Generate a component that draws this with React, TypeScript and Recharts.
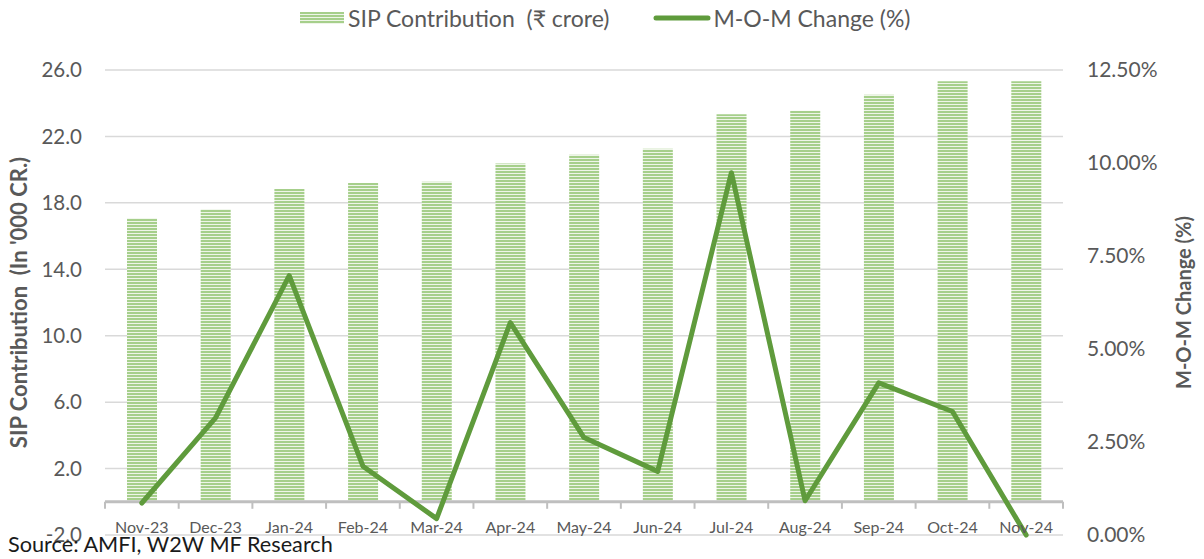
import React from 'react';
import {
  ComposedChart,
  Bar,
  Line,
  XAxis,
  YAxis,
  CartesianGrid,
  Legend,
  ReferenceLine,
} from 'recharts';

const months = ['Nov-23', 'Dec-23', 'Jan-24', 'Feb-24', 'Mar-24', 'Apr-24', 'May-24', 'Jun-24', 'Jul-24', 'Aug-24', 'Sep-24', 'Oct-24', 'Nov-24'];
const sipContribution = [17.07, 17.61, 18.84, 19.19, 19.27, 20.37, 20.9, 21.26, 23.33, 23.55, 24.51, 25.32, 25.32];
const momChange = [0.86, 3.15, 6.97, 1.85, 0.44, 5.71, 2.62, 1.71, 9.74, 0.92, 4.09, 3.32, 0];
const leftTicks = [-2, 2, 6, 10, 14, 18, 22, 26];
const rightTicks = [0, 2.5, 5, 7.5, 10, 12.5];

const data = months.map((m, i) => ({ month: m, sip: sipContribution[i], mom: momChange[i] }));

const W = 1204;
const H = 559;
const LEGEND_H = 36;
// plot area runs from y=70 to y=535
const MARGIN = { top: 70 - LEGEND_H, right: 0, bottom: 23, left: 0 };
const LEFT_W = 105;
const RIGHT_W = 141;
const PLOT_W = W - LEFT_W - RIGHT_W;
const PLOT_H = 535 - 70;
const BAND = PLOT_W / months.length;
const ZERO_OFFSET = (PLOT_H * 2) / 28;

const TEXT = '#595959';
const LINE_GREEN = '#5f9b3c';
const STRIPE = '#a6cf8b';
const STRIPE_BG = '#eef5e8';
const FONT = 'Lato, "Open Sans", sans-serif';

const XTick = (props: any) => {
  const { x, y, payload, index } = props;
  const y0 = y - ZERO_OFFSET;
  return (
    <g>
      <line x1={x - BAND / 2} x2={x - BAND / 2} y1={y0} y2={y0 + 7} stroke="#bfbfbf" strokeWidth={2} />
      {index === months.length - 1 && (
        <line x1={x + BAND / 2} x2={x + BAND / 2} y1={y0} y2={y0 + 7} stroke="#bfbfbf" strokeWidth={2} />
      )}
      <text x={x} y={y - 2} textAnchor="middle" fontSize={16} fill={TEXT} fontFamily={FONT}>
        {payload.value}
      </text>
    </g>
  );
};

const LegendContent = () => (
  <div style={{ display: 'flex', alignItems: 'center', paddingLeft: 300, height: LEGEND_H, fontFamily: FONT, fontSize: 23, color: TEXT }}>
    <svg width={44} height={12} style={{ marginRight: 4 }}>
      <defs>
        <pattern id="legendStripes" width={4} height={3} patternUnits="userSpaceOnUse">
          <rect width={4} height={3} fill={STRIPE_BG} />
          <rect width={4} height={2} fill={STRIPE} />
        </pattern>
      </defs>
      <rect width={44} height={12} fill="url(#legendStripes)" />
    </svg>
    <span style={{ whiteSpace: 'pre' }}>SIP Contribution  (₹ crore)</span>
    <svg width={58} height={12} style={{ marginLeft: 44, marginRight: 2 }}>
      <line x1={3} x2={55} y1={6} y2={6} stroke={LINE_GREEN} strokeWidth={5} strokeLinecap="round" />
    </svg>
    <span>M-O-M Change (%)</span>
  </div>
);

export default function App() {
  return (
    <div style={{ position: 'absolute', left: 0, top: 0, width: W, height: H, background: '#ffffff', fontFamily: FONT }}>
      <ComposedChart width={W} height={H} data={data} margin={MARGIN}>
        <defs>
          <pattern id="barStripes" width={4} height={3} patternUnits="userSpaceOnUse">
            <rect width={4} height={3} fill={STRIPE_BG} />
            <rect width={4} height={2} fill={STRIPE} />
          </pattern>
        </defs>
        <CartesianGrid yAxisId="left" vertical={false} stroke="#d9d9d9" strokeWidth={1.5} />
        <XAxis
          dataKey="month"
          height={1}
          axisLine={false}
          tickLine={false}
          tickSize={0}
          tickMargin={0}
          interval={0}
          tick={<XTick />}
        />
        <YAxis
          yAxisId="left"
          orientation="left"
          width={LEFT_W}
          domain={[-2, 26]}
          ticks={leftTicks}
          tickFormatter={(v: number) => v.toFixed(1)}
          axisLine={false}
          tickLine={false}
          tickSize={0}
          tickMargin={23}
          tick={{ fontSize: 20.5, fill: TEXT, fontFamily: FONT }}
          label={{
            value: "SIP Contribution\u00a0\u00a0(In '000 CR.)",
            angle: -90,
            position: 'center',
            dx: -33,
            style: { fontSize: 22, fontWeight: 700, fill: TEXT, fontFamily: FONT },
          }}
        />
        <YAxis
          yAxisId="right"
          orientation="right"
          width={RIGHT_W}
          domain={[0, 12.5]}
          ticks={rightTicks}
          tickFormatter={(v: number) => v.toFixed(2) + '%'}
          axisLine={false}
          tickLine={false}
          tickSize={0}
          tickMargin={24}
          tick={{ fontSize: 21, fill: TEXT, fontFamily: FONT, textAnchor: 'start' }}
          label={{
            value: 'M-O-M Change (%)',
            angle: -90,
            position: 'center',
            dx: 50,
            style: { fontSize: 20, fontWeight: 700, fill: TEXT, fontFamily: FONT },
          }}
        />
        <Legend verticalAlign="top" height={LEGEND_H} content={<LegendContent />} wrapperStyle={{ top: 0, left: 0, width: W }} />
        <Bar yAxisId="left" dataKey="sip" name="SIP Contribution  (₹ crore)" fill="url(#barStripes)" barSize={30} isAnimationActive={false} />
        <ReferenceLine yAxisId="left" y={0} stroke="#bfbfbf" strokeWidth={3} />
        <Line
          yAxisId="right"
          type="linear"
          dataKey="mom"
          name="M-O-M Change (%)"
          stroke={LINE_GREEN}
          strokeWidth={5}
          strokeLinecap="round"
          strokeLinejoin="round"
          dot={false}
          isAnimationActive={false}
        />
      </ComposedChart>
      <div style={{ position: 'absolute', left: 8, top: 532, fontSize: 21.7, color: '#1a1a1a', fontFamily: FONT, lineHeight: '24px' }}>
        Source: AMFI, W2W MF Research
      </div>
    </div>
  );
}
